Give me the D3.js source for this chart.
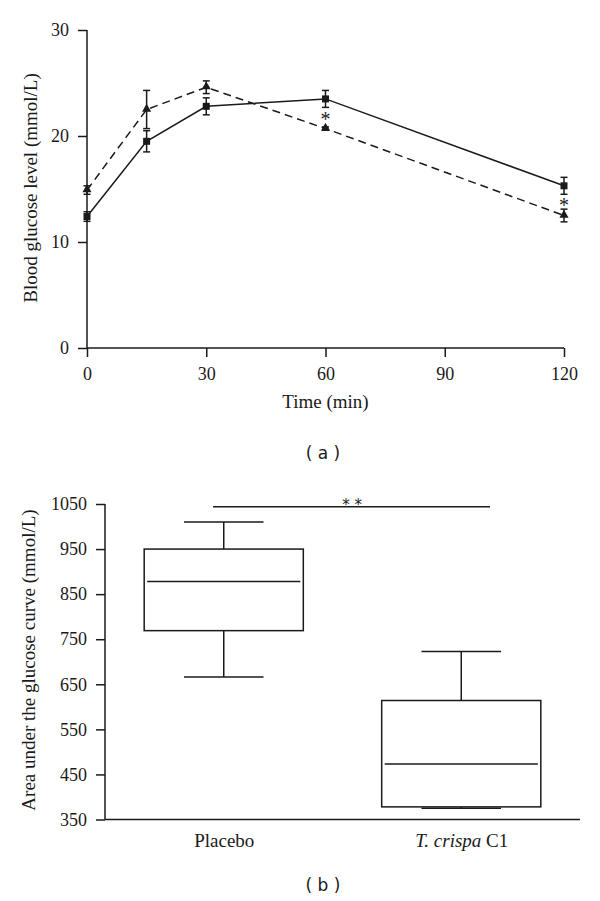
<!DOCTYPE html>
<html>
<head>
<meta charset="utf-8">
<script src="https://cdn.jsdelivr.net/npm/d3@7"></script>
<style>
  html, body { margin: 0; padding: 0; background: #fff; }
  svg { display: block; }
</style>
</head>
<body>
<svg id="chart" width="600" height="901"></svg>
<script>
// ---------- Data: panel (a) ----------
const times = [0, 15, 30, 60, 120];
const placeboMean = [12.4, 19.5, 22.8, 23.5, 15.3];
const placeboErr  = [0.45, 1.0, 0.8, 0.8, 0.8];
const crispaMean  = [14.9, 22.5, 24.6, 20.7, 12.5];
const crispaErr   = [0.4, 1.8, 0.6, 0.15, 0.6];
const xTicksA = [0, 30, 60, 90, 120];
const yTicksA = [0, 10, 20, 30];
const starTimes = [60, 120];
const starValues = [21.8, 13.7];

// ---------- Data: panel (b) ----------
const groups = ["Placebo", "T. crispa C1"];
const boxMin = [666, 375];
const boxQ1 = [769, 378];
const boxMedian = [878, 473];
const boxQ3 = [950, 614];
const boxMax = [1010, 723];
const yTicksB = [350, 450, 550, 650, 750, 850, 950, 1050];
const sigValue = 1044;

const svg = d3.select("#chart");
const ink = "#1a1a1a";
const serif = "'Liberation Serif', 'Times New Roman', serif";
const sans = "'DejaVu Sans', Verdana, sans-serif";

// ================= Panel (a) =================
const xA = d3.scaleLinear().domain([0, 120]).range([87, 564]);
const yA = d3.scaleLinear().domain([0, 30]).range([348, 30]);

const gA = svg.append("g");

const axA_y = gA.append("g").attr("transform", `translate(${xA(0)},0)`)
  .call(d3.axisLeft(yA).tickValues(yTicksA).tickFormat(d3.format("d")).tickSize(9).tickPadding(9));
const axA_x = gA.append("g").attr("transform", `translate(0,${yA(0)})`)
  .call(d3.axisBottom(xA).tickValues(xTicksA).tickFormat(d3.format("d")).tickSize(9).tickPadding(10));
[axA_y, axA_x].forEach(ax => {
  ax.select(".domain").attr("stroke", ink).attr("stroke-width", 1.5);
  ax.selectAll(".tick line").attr("stroke", ink).attr("stroke-width", 1.5);
  ax.selectAll(".tick text").attr("fill", ink).style("font-family", serif).style("font-size", "18px");
});
axA_y.select(".domain").attr("d", `M0,${yA(30)}V${yA(0)}`);
axA_x.select(".domain").attr("d", `M${xA(0)},0H${xA(120)}`);

const line = (vals) => d3.line().x((d, i) => xA(times[i])).y(d => yA(d))(vals);

gA.append("path").attr("d", line(crispaMean)).attr("fill", "none")
  .attr("stroke", ink).attr("stroke-width", 1.5).attr("stroke-dasharray", "8,5");
gA.append("path").attr("d", line(placeboMean)).attr("fill", "none")
  .attr("stroke", ink).attr("stroke-width", 1.5);

function errorBars(means, errs) {
  means.forEach((m, i) => {
    const x = xA(times[i]);
    const y1 = yA(m + errs[i]), y2 = yA(m - errs[i]);
    gA.append("line").attr("x1", x).attr("x2", x).attr("y1", y1).attr("y2", y2)
      .attr("stroke", ink).attr("stroke-width", 1.5);
    [y1, y2].forEach(y => gA.append("line").attr("x1", x - 3.5).attr("x2", x + 3.5)
      .attr("y1", y).attr("y2", y).attr("stroke", ink).attr("stroke-width", 1.5));
  });
}
errorBars(crispaMean, crispaErr);
errorBars(placeboMean, placeboErr);

const triSym = d3.symbol().type(d3.symbolTriangle).size(36);
crispaMean.forEach((m, i) => {
  gA.append("path").attr("d", triSym())
    .attr("transform", `translate(${xA(times[i])},${yA(m) - 0.5})`).attr("fill", ink);
});
placeboMean.forEach((m, i) => {
  gA.append("rect").attr("x", xA(times[i]) - 3.5).attr("y", yA(m) - 3.5)
    .attr("width", 7).attr("height", 7).attr("fill", ink);
});

starTimes.forEach((t, i) => {
  gA.append("text").attr("x", xA(t)).attr("y", yA(starValues[i]) + 9)
    .attr("text-anchor", "middle").attr("fill", ink)
    .style("font-family", serif).style("font-size", "20px").text("*");
});

gA.append("text").attr("x", xA(60)).attr("y", 408).attr("text-anchor", "middle")
  .attr("fill", ink).style("font-family", serif).style("font-size", "19px").text("Time (min)");
gA.append("text").attr("transform", `translate(37,188) rotate(-90)`).attr("text-anchor", "middle")
  .attr("fill", ink).style("font-family", serif).style("font-size", "19px")
  .text("Blood glucose level (mmol/L)");
gA.append("text").attr("x", 323).attr("y", 459).attr("text-anchor", "middle")
  .attr("fill", ink).style("font-family", sans).style("font-size", "17px")
  .attr("xml:space", "preserve").text("( a )");

// ================= Panel (b) =================
const xB = d3.scalePoint().domain(groups).range([105, 580]).padding(0.5);
const yB = d3.scaleLinear().domain([350, 1050]).range([819.5, 504]);
const step = xB.step();
const boxW = step * 0.67;
const capW = boxW * 0.5;

const gB = svg.append("g");
const axB_y = gB.append("g").attr("transform", `translate(105,0)`)
  .call(d3.axisLeft(yB).tickValues(yTicksB).tickFormat(d3.format("d")).tickSize(9).tickPadding(9));
axB_y.select(".domain").attr("stroke", ink).attr("stroke-width", 1.5)
  .attr("d", `M0,${yB(1050)}V${yB(350)}`);
axB_y.selectAll(".tick line").attr("stroke", ink).attr("stroke-width", 1.5);
axB_y.selectAll(".tick text").attr("fill", ink).style("font-family", serif).style("font-size", "18px");

const axB_x = gB.append("g").attr("transform", `translate(0,${yB(350)})`)
  .call(d3.axisBottom(xB).tickSize(0).tickPadding(14));
axB_x.select(".domain").attr("stroke", ink).attr("stroke-width", 1.5)
  .attr("d", `M105,0H580`);
axB_x.selectAll(".tick text").attr("fill", ink).style("font-family", serif).style("font-size", "19px")
  .each(function(d) {
    if (d === "T. crispa C1") {
      const t = d3.select(this).text(null);
      t.append("tspan").style("font-style", "italic").text("T. crispa");
      t.append("tspan").text(" C1");
    }
  });

groups.forEach((g, i) => {
  const cx = xB(g);
  gB.append("line").attr("x1", cx).attr("x2", cx).attr("y1", yB(boxMax[i])).attr("y2", yB(boxQ3[i]))
    .attr("stroke", ink).attr("stroke-width", 1.5);
  gB.append("line").attr("x1", cx).attr("x2", cx).attr("y1", yB(boxQ1[i])).attr("y2", yB(boxMin[i]))
    .attr("stroke", ink).attr("stroke-width", 1.5);
  [boxMax[i], boxMin[i]].forEach(v => gB.append("line")
    .attr("x1", cx - capW / 2).attr("x2", cx + capW / 2).attr("y1", yB(v)).attr("y2", yB(v))
    .attr("stroke", ink).attr("stroke-width", 1.5));
  gB.append("rect").attr("x", cx - boxW / 2).attr("y", yB(boxQ3[i]))
    .attr("width", boxW).attr("height", yB(boxQ1[i]) - yB(boxQ3[i]))
    .attr("fill", "none").attr("stroke", ink).attr("stroke-width", 1.5);
  gB.append("line").attr("x1", cx - boxW / 2 + 3).attr("x2", cx + boxW / 2 - 3)
    .attr("y1", yB(boxMedian[i])).attr("y2", yB(boxMedian[i]))
    .attr("stroke", ink).attr("stroke-width", 1.5);
});

const sx1 = xB(groups[0]) - step * 0.045;
const sx2 = xB(groups[1]) + step * 0.121;
gB.append("line").attr("x1", sx1).attr("x2", sx2).attr("y1", yB(sigValue)).attr("y2", yB(sigValue))
  .attr("stroke", ink).attr("stroke-width", 1.5);
gB.append("text").attr("x", (sx1 + sx2) / 2 + 0.5).attr("y", yB(sigValue) + 3)
  .attr("text-anchor", "middle").attr("fill", ink).attr("xml:space", "preserve")
  .style("font-family", sans).style("font-size", "15px").text("* *");

gB.append("text").attr("transform", `translate(35,660) rotate(-90)`).attr("text-anchor", "middle")
  .attr("fill", ink).style("font-family", serif).style("font-size", "19px")
  .text("Area under the glucose curve (mmol/L)");
gB.append("text").attr("x", 323).attr("y", 891).attr("text-anchor", "middle")
  .attr("fill", ink).style("font-family", sans).style("font-size", "17px")
  .attr("xml:space", "preserve").text("( b )");
</script>
</body>
</html>
